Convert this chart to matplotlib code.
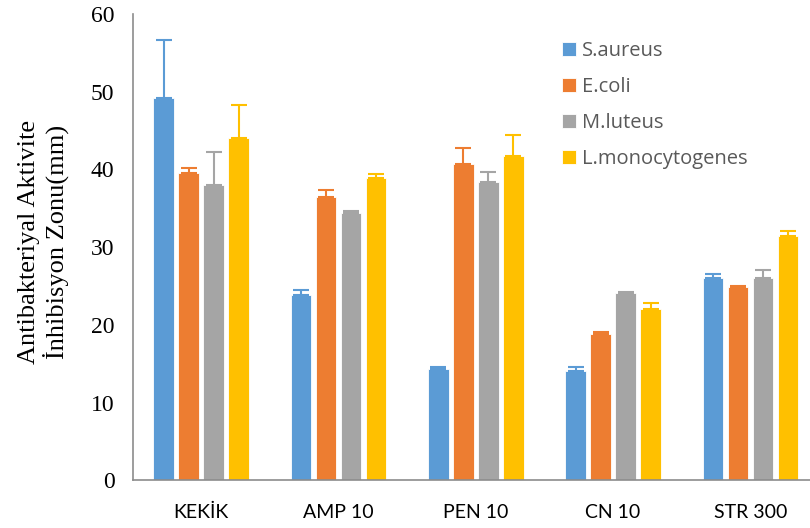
import numpy as np
import matplotlib.pyplot as plt

categories = ['KEKİK', 'AMP 10', 'PEN 10', 'CN 10', 'STR 300']
series = ['S.aureus', 'E.coli', 'M.luteus', 'L.monocytogenes']
s_aureus = [49.2, 23.9, 14.3, 14.1, 26.0]
e_coli = [39.6, 36.4, 40.7, 18.9, 24.9]
m_luteus = [38.0, 34.4, 38.4, 24.1, 26.05]
l_mono = [44.1, 38.9, 41.7, 22.1, 31.5]
err_s_aureus = [7.4, 0.6, 0.25, 0.5, 0.5]
err_e_coli = [0.6, 0.9, 2.0, 0.15, 0.1]
err_m_luteus = [4.3, 0.2, 1.3, 0.2, 1.0]
err_l_mono = [4.2, 0.5, 2.7, 0.7, 0.6]

colors = ['#5B9BD5', '#ED7D31', '#A5A5A5', '#FFC000']


def main():
    fig = plt.figure(figsize=(8.1, 5.28), dpi=100)
    ax = fig.add_axes([132.5 / 810, 0.09, 686.5 / 810, 0.8835])

    values = [s_aureus, e_coli, m_luteus, l_mono]
    errors = [err_s_aureus, err_e_coli, err_m_luteus, err_l_mono]
    x = np.arange(len(categories))
    step = 0.182
    for i, (vals, errs) in enumerate(zip(values, errors)):
        pos = x + (i - 1.5) * step
        ax.bar(pos, vals, width=0.15, color=colors[i], edgecolor='white',
               linewidth=0.6, label=series[i], zorder=2)
        ax.errorbar(pos, vals, yerr=[np.zeros(len(errs)), errs], fmt='none',
                    ecolor=colors[i], elinewidth=1.5, capsize=5.5,
                    capthick=1.5, zorder=3)

    ax.set_xlim(-0.5, 4.5)
    ax.set_ylim(0, 60)
    ax.set_yticks(range(0, 61, 10))
    ax.set_xticks(x)
    ax.set_xticklabels(categories, fontfamily='Lato', fontsize=14)
    for lbl in ax.get_yticklabels():
        lbl.set_fontfamily('Liberation Serif')
        lbl.set_fontsize(17)
    ax.tick_params(axis='both', length=0)
    ax.tick_params(axis='x', pad=17)
    ax.tick_params(axis='y', pad=13)

    for side in ['top', 'right']:
        ax.spines[side].set_visible(False)
    ax.spines['left'].set_color('#8C8C8C')
    ax.spines['bottom'].set_color('#8C8C8C')
    ax.spines['left'].set_linewidth(1.2)
    ax.spines['bottom'].set_linewidth(1.2)

    ax.set_ylabel('Antibakteriyal Aktivite\nİnhibisyon Zonu(mm)',
                  fontfamily='Liberation Serif', fontsize=19, linespacing=1.15)
    ax.yaxis.set_label_coords(-0.092, 0.512)

    leg = ax.legend(loc='upper left', bbox_to_anchor=(0.599, 0.981),
                    frameon=False, handlelength=0.7, handleheight=0.7,
                    handletextpad=0.3, labelspacing=0.79,
                    prop={'family': 'Open Sans', 'size': 14.5})
    for t in leg.get_texts():
        t.set_color('#595959')

    fig.savefig('out.png', dpi=100)


if __name__ == '__main__':
    main()
